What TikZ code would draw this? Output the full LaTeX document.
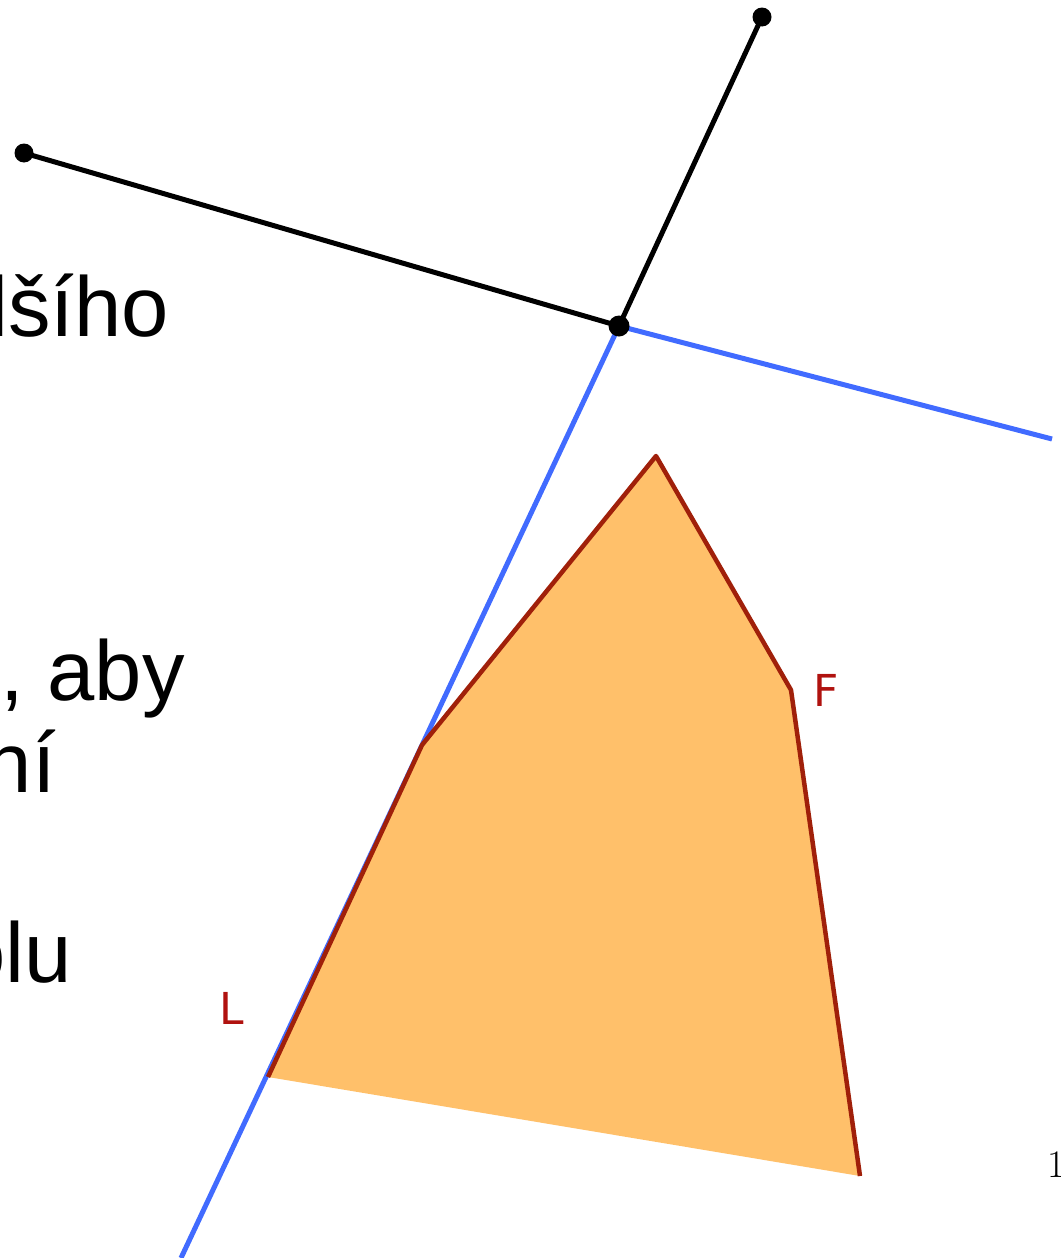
\documentclass[tikz,border=0pt]{standalone}
\usepackage{fontspec}
\newfontfamily\arialfont{Liberation Sans}
\newfontfamily\labelfont{DejaVu Sans}
\definecolor{geoblue}{HTML}{416BFF}
\definecolor{polyfill}{HTML}{FFC06A}
\definecolor{polyedge}{HTML}{A0200A}
\definecolor{labelred}{HTML}{B0120F}
\begin{document}
\begin{tikzpicture}[x=1pt,y=-1pt,
  bigtext/.style={inner sep=0pt,anchor=base east,font=\arialfont\fontsize{85}{100}\selectfont},
  ptlabel/.style={inner sep=0pt,text=labelred,font=\labelfont\fontsize{44}{44}\selectfont},
  blackseg/.style={draw=black,line width=5pt},
  blueline/.style={draw=geoblue,line width=5pt},
  edgeline/.style={draw=polyedge,line width=4.5pt,line join=round},
  dotpt/.style={fill=black}
]
\useasboundingbox (0,0) rectangle (1060,1258);
\clip (0,0) rectangle (1060,1258);

% text fragments
\node[bigtext] (t1) at (169,336) {lšího};
\node[bigtext] (t2) at (185,700) {, aby};
\node[bigtext] (t3) at (56,792) {ní};
\node[bigtext] (t4) at (72,982) {olu};
\node[inner sep=0pt,anchor=base west,font=\fontsize{39}{39}\selectfont] (pg) at (1047,1177) {1};

% points
\coordinate (A) at (24,153);
\coordinate (B) at (762,17);
\coordinate (C) at (619,326);
\coordinate (E) at (1052,439);
\coordinate (D) at (181,1258);
\coordinate (P1) at (268,1077);
\coordinate (P2) at (422,745);
\coordinate (P3) at (656,456);
\coordinate (P4) at (791,690);
\coordinate (P5) at (860,1176);

% blue lines
\draw[blueline] (C) -- (E);
\draw[blueline] (C) -- (D);

% polygon
\fill[polyfill] (P1) -- (P2) -- (P3) -- (P4) -- (P5) -- cycle;
\draw[edgeline] (P1) -- (P2) -- (P3) -- (P4) -- (P5);

% black segments
\draw[blackseg] (A) -- (C);
\draw[blackseg] (B) -- (C);
\fill[dotpt] (A) circle (9.5);
\fill[dotpt] (B) circle (9.5);
\fill[dotpt] (C) circle (10.5);

% labels
\node[ptlabel] (L) at (232,1008) {L};
\node[ptlabel] (F) at (826,690) {F};
\end{tikzpicture}
\end{document}
